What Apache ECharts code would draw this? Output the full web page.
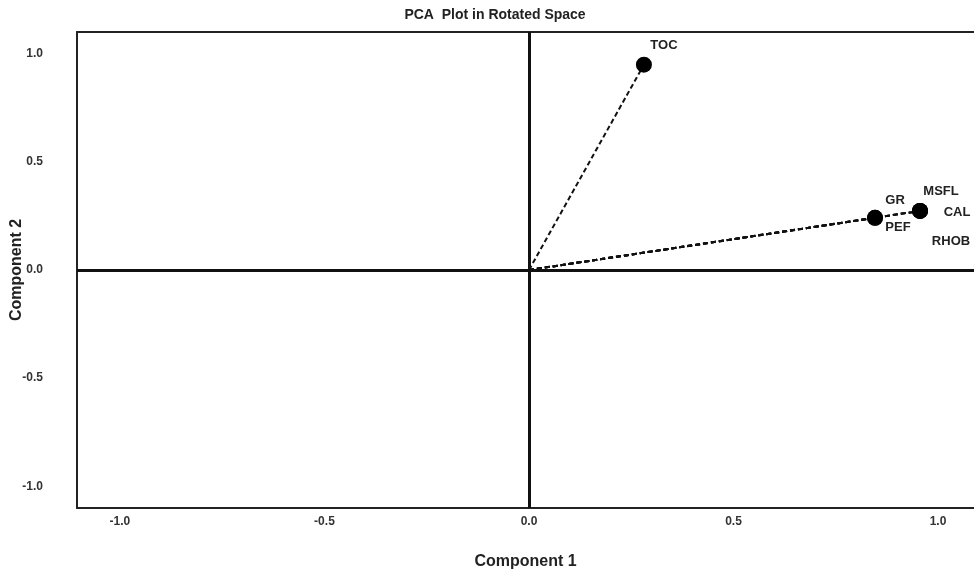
<!DOCTYPE html>
<html>
<head>
<meta charset="utf-8">
<script src="https://cdn.jsdelivr.net/npm/echarts@6/dist/echarts.min.js"></script>
<style>
  html, body { margin: 0; padding: 0; background: #fff; }
  #main { width: 974px; height: 571px; }
</style>
</head>
<body>
<div id="main"></div>
<script>
// loadings of each variable in the rotated component space
var variables = ['TOC', 'GR', 'PEF', 'MSFL', 'CAL', 'RHOB'];
var comp1 = [0.281, 0.846, 0.846, 0.956, 0.956, 0.956];
var comp2 = [0.949, 0.241, 0.241, 0.273, 0.273, 0.273];
var tickValues = [-1, -0.5, 0, 0.5, 1];

// where each label sits relative to its marker
var labelOffsets = {
    TOC: [20, -19],
    GR: [20, -17],
    PEF: [23, 10],
    MSFL: [21, -20],
    CAL: [37, 1],
    RHOB: [31, 30]
};

var chartDom = document.getElementById('main');
var myChart = echarts.init(chartDom);
var option;

var font = 'Liberation Sans, Arial, sans-serif';

var points = variables.map(function (name, i) {
    return {
        name: name,
        value: [comp1[i], comp2[i]],
        label: { offset: labelOffsets[name] }
    };
});

var vectorSeries = variables.map(function (name, i) {
    return {
        type: 'line',
        data: [[0, 0], [comp1[i], comp2[i]]],
        symbol: 'none',
        silent: true,
        z: 3,
        lineStyle: { color: '#111', width: 2, type: [5, 3] }
    };
});

option = {
    animation: false,
    title: {
        text: 'PCA  Plot in Rotated Space',
        left: 490,
        textAlign: 'center',
        top: 3,
        textStyle: { color: '#222', fontSize: 14, fontWeight: 'bold', fontFamily: font }
    },
    grid: { left: 77, right: 0, top: 32, bottom: 63, outerBoundsMode: 'none', containLabel: false },
    xAxis: [
        {
            type: 'value',
            min: -1.105,
            max: 1.088,
            name: 'Component 1',
            nameLocation: 'middle',
            nameGap: 46,
            nameMoveOverlap: false,
            nameTextStyle: { color: '#222', fontSize: 16, fontWeight: 'bold', fontFamily: font },
            axisLine: { onZero: false, lineStyle: { color: '#222', width: 2 } },
            axisTick: { show: false },
            splitLine: { show: false },
            axisLabel: {
                customValues: tickValues,
                margin: 8,
                color: '#333',
                fontSize: 12,
                fontWeight: 'bold',
                fontFamily: font,
                formatter: function (v) { return v.toFixed(1); }
            }
        },
        {
            type: 'value',
            position: 'top',
            min: -1.105,
            max: 1.088,
            axisLine: { show: true, onZero: false, lineStyle: { color: '#222', width: 2 } },
            axisTick: { show: false },
            axisLabel: { show: false },
            splitLine: { show: false }
        }
    ],
    yAxis: {
        type: 'value',
        min: -1.1,
        max: 1.1,
        name: 'Component 2',
        nameLocation: 'middle',
        nameGap: 52,
        nameMoveOverlap: false,
        nameTextStyle: { color: '#222', fontSize: 16, fontWeight: 'bold', fontFamily: font },
        axisLine: { show: true, onZero: false, lineStyle: { color: '#222', width: 2 } },
        axisTick: { show: false },
        splitLine: { show: false },
        axisLabel: {
            customValues: tickValues,
            margin: 34,
            color: '#333',
            fontSize: 12,
            fontWeight: 'bold',
            fontFamily: font,
            formatter: function (v) { return v.toFixed(1); }
        }
    },
    series: vectorSeries.concat([
        {
            type: 'scatter',
            data: points,
            symbolSize: 16,
            z: 5,
            itemStyle: { color: '#000', opacity: 1 },
            label: {
                show: true,
                position: 'inside',
                formatter: '{b}',
                color: '#222',
                fontSize: 13,
                fontWeight: 'bold',
                fontFamily: font
            },
            markLine: {
                silent: true,
                symbol: 'none',
                label: { show: false },
                lineStyle: { color: '#111', width: 3, type: 'solid' },
                data: [{ xAxis: 0 }, { yAxis: 0 }]
            }
        }
    ])
};

option && myChart.setOption(option);
</script>
</body>
</html>
